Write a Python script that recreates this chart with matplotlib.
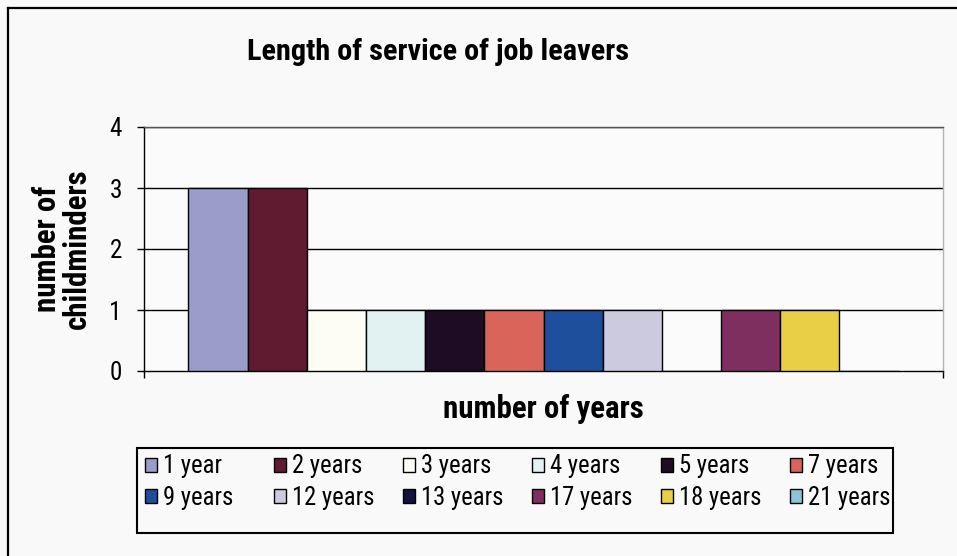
import matplotlib
matplotlib.use("Agg")
import matplotlib.pyplot as plt
from matplotlib import font_manager
from matplotlib.patches import Rectangle
from matplotlib.lines import Line2D
import numpy as np

# prefer a condensed sans face; fall back to regular Liberation Sans
fonts = font_manager.fontManager.ttflist
FAMILY, STRETCH = "Liberation Sans", "normal"
for fam in ("Liberation Sans Narrow", "Arial Narrow", "Roboto Condensed",
            "Open Sans Condensed", "Noto Sans", "DejaVu Sans"):
    hits = [f for f in fonts if f.name == fam]
    if fam.endswith(("Narrow", "Condensed")) and hits:
        FAMILY, STRETCH = fam, "normal"
        break
    cond = [f for f in hits if str(f.stretch) in ("condensed", "semi-condensed", "extra-condensed")
            or (isinstance(f.stretch, int) and f.stretch < 500)]
    if cond:
        FAMILY, STRETCH = fam, "condensed"
        break
plt.rcParams['font.family'] = [FAMILY, 'Liberation Sans', 'DejaVu Sans']
plt.rcParams['font.stretch'] = STRETCH

# ---- chart text and data ----
TITLE = "Length of service of job leavers"
X_LABEL = "number of years"
Y_LABEL = "number of\nchildminders"

service_lengths = ["1 year", "2 years", "3 years", "4 years", "5 years", "7 years",
                   "9 years", "12 years", "13 years", "17 years", "18 years", "21 years"]
leaver_counts = [3, 3, 1, 1, 1, 1, 1, 1, 0, 1, 1, 0]
y_ticks = [0, 1, 2, 3, 4]

bar_colors = ["#9A9CCA", "#611B30", "#FDFDF6", "#E2F1F1", "#1E0C24", "#D8645A",
              "#1D4F9C", "#CBCADF", "#12123C", "#7E2F60", "#E8CF45", "#8CC4DC"]

BG = "#F9F9F9"
PLOT_BG = "#FBFBFB"

W, H = 957, 556
fig = plt.figure(figsize=(W / 100, H / 100), dpi=100, facecolor=BG)
renderer = fig.canvas.get_renderer()


def fx(px):
    return px / W


def fy(py):
    return 1 - py / H


def size_for_width(sample, target_px, weight="normal", base=20.0):
    """Font size at which `sample` renders `target_px` pixels wide."""
    t = fig.text(0, 0, sample, fontsize=base, fontweight=weight)
    w = t.get_window_extent(renderer).width
    t.remove()
    return base * target_px / w


TITLE_FS = size_for_width(TITLE, 380, "bold")
AXIS_FS = size_for_width(X_LABEL, 200, "bold")
LEGEND_FS = size_for_width("12 years", 82)
TICK_FS = LEGEND_FS * 1.02

ax_left, ax_right, ax_top, ax_bottom = 144, 943, 127, 371
ax = fig.add_axes([fx(ax_left), fy(ax_bottom),
                   fx(ax_right) - fx(ax_left), fy(ax_top) - fy(ax_bottom)])
ax.set_facecolor(PLOT_BG)

# one category, twelve series side by side (gap of 1.5 bar widths around the group)
n = len(leaver_counts)
offsets = np.arange(n) - (n - 1) / 2
gap = 1.5
handles = []
for off, val, col, lab in zip(offsets, leaver_counts, bar_colors, service_lengths):
    bars = ax.bar(off, val, width=1.0, color=col, edgecolor="black",
                  linewidth=1.0, label=lab, zorder=3)
    handles.append(bars)

half = n / 2 + gap / 2
ax.set_xlim(-half, half)
ax.set_ylim(y_ticks[0], y_ticks[-1])
ax.set_yticks(y_ticks)
ax.set_xticks([-half, half])
ax.set_xticklabels([])

ax.yaxis.grid(True, color="black", linewidth=1.0)
ax.set_axisbelow(True)
ax.get_ygridlines()[0].set_visible(False)

for side in ("left", "bottom"):
    ax.spines[side].set_color("black")
    ax.spines[side].set_linewidth(1.0)
ax.spines["top"].set_color("#555555")
ax.spines["top"].set_linewidth(1.0)
ax.spines["right"].set_color("#B5B5B5")
ax.spines["right"].set_linewidth(1.0)

ax.tick_params(axis="y", direction="out", length=5, width=1.0,
               labelsize=TICK_FS, pad=11, colors="black")
ax.tick_params(axis="x", direction="out", length=5, width=1.0)

ax.set_xlabel(X_LABEL, fontsize=AXIS_FS, fontweight="bold")
ax.xaxis.label.set_va("center")
ax.xaxis.set_label_coords(0.5, -(409 - ax_bottom) / (ax_bottom - ax_top))

ax.set_ylabel(Y_LABEL, fontsize=AXIS_FS, fontweight="bold", linespacing=1.0)
ax.yaxis.label.set_va("center")
ax.yaxis.label.set_ha("center")
ax.yaxis.set_label_coords(-(ax_left - 62) / (ax_right - ax_left),
                          (ax_bottom - 249) / (ax_bottom - ax_top))

fig.text(fx(438), fy(52), TITLE, ha="center", va="center",
         fontsize=TITLE_FS, fontweight="bold")

# chart area border (left and top edges)
fig.add_artist(Line2D([fx(8), fx(8)], [fy(8), 0], color="black", lw=1.6,
                      transform=fig.transFigure))
fig.add_artist(Line2D([fx(8), 1], [fy(8), fy(8)], color="black", lw=1.6,
                      transform=fig.transFigure))

# legend: six evenly spaced columns, two rows, filled row by row
leg_left, leg_right, leg_top, leg_bottom = 137, 893, 448, 533
fig.add_artist(Rectangle((fx(leg_left), fy(leg_bottom)),
                         fx(leg_right) - fx(leg_left), fy(leg_top) - fy(leg_bottom),
                         transform=fig.transFigure, fill=False,
                         edgecolor="black", lw=1.5))
ncol = 6
col_x0, col_step = 145, 129
for j in range(ncol):
    col_handles = [handles[j], handles[j + ncol]]
    col_labels = [service_lengths[j], service_lengths[j + ncol]]
    fig.legend(col_handles, col_labels, loc="center left",
               bbox_to_anchor=(fx(col_x0 + j * col_step), fy(482)),
               frameon=False, fontsize=LEGEND_FS, handlelength=0.5, handleheight=0.5,
               handletextpad=0.25, labelspacing=0.3, borderpad=0, borderaxespad=0)

fig.savefig("out.png", dpi=100, facecolor=BG)
